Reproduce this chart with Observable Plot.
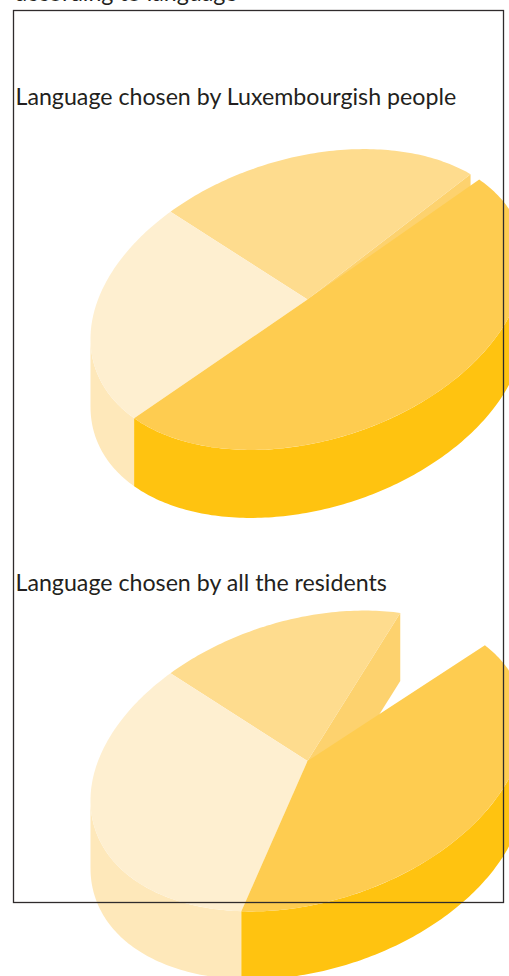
<!DOCTYPE html>
<html>
<head>
<meta charset="utf-8">
<script src="https://cdn.jsdelivr.net/npm/d3@7"></script>
<script src="https://cdn.jsdelivr.net/npm/@observablehq/plot@0.6"></script>
<style>
  html, body { margin: 0; padding: 0; background: #fff; overflow: hidden; }
  svg { display: block; }
</style>
</head>
<body>
<div id="chart"></div>
<script>
// Share of each language (percent), clockwise from the boundary between the two pale slices.
const sliceNames = ["third", "unshown", "first", "second"];
const luxembourgishShares = [24.4, 1.0, 50.2, 24.4];
const residentShares = [17.9, 8.2, 39.7, 34.2];

const headings = [
  "according to language",
  "Language chosen by Luxembourgish people",
  "Language chosen by all the residents"
];

// Colours of the top faces and of the walls.
const topColors = { first: "#fecc50", second: "#feefd0", third: "#fedc8e" };
const wallColors = { first: "#ffc310", second: "#fee8ba", third: "#fdd26e" };

// Oblique projection of a unit disc onto the page.
const axisU = [173, -119];
const axisV = [131, 92];
const depth = 68;
const startAngle = 268;
const pies = [
  { shares: luxembourgishShares, cx: 307, cy: 299 },
  { shares: residentShares, cx: 307, cy: 760.5 }
];

// The outer wall faces the viewer only between the two horizontal extremes of the rim.
const rimRight = Math.atan2(axisV[0], axisU[0]) * 180 / Math.PI;
const rimLeft = rimRight + 180;

function project(pie, angle, radius = 1, drop = 0) {
  const t = angle * Math.PI / 180;
  const a = Math.cos(t) * radius, b = Math.sin(t) * radius;
  return {
    x: pie.cx + a * axisU[0] + b * axisV[0],
    y: pie.cy + a * axisU[1] + b * axisV[1] + drop
  };
}

function arc(pie, from, to, drop = 0) {
  const n = Math.max(2, Math.ceil(Math.abs(to - from)));
  return d3.range(n + 1).map((i) => project(pie, from + (to - from) * i / n, 1, drop));
}

function wall(pie, from, to) {
  const turn = from > rimLeft ? 360 : 0;
  const a = Math.max(from - turn, rimRight), b = Math.min(to - turn, rimLeft);
  return [...arc(pie, a, b), ...arc(pie, b, a, depth)];
}

// Every pie yields its faces in back-to-front paint order.
function faces(pie, index) {
  let angle = startAngle;
  const spans = {};
  sliceNames.forEach((name, i) => {
    const sweep = pie.shares[i] * 3.6;
    spans[name] = [angle, angle + sweep];
    angle += sweep;
  });
  const out = [];
  const add = (id, color, pts) =>
    pts.forEach((p) => out.push({ ...p, id: `${index}-${id}`, color }));

  const [t0, t1] = spans.third;
  const [f0, f1] = spans.first;
  const [s0, s1] = spans.second;

  add("third-cut", wallColors.third, [
    project(pie, t1, 0), project(pie, t1), project(pie, t1, 1, depth), project(pie, t1, 0, depth)
  ]);
  add("third-top", topColors.third, [project(pie, t0, 0), ...arc(pie, t0, t1)]);
  // Walls are clipped against the rim extremes after normalising the angles to one turn.
  add("second-wall", wallColors.second, wall(pie, s0 % 360, s0 % 360 + (s1 - s0)));
  add("second-top", topColors.second, [project(pie, s0, 0), ...arc(pie, s0, s1)]);
  add("first-wall", wallColors.first, wall(pie, f0 % 360, f0 % 360 + (f1 - f0)));
  add("first-top", topColors.first, [project(pie, f0, 0), ...arc(pie, f0, f1)]);
  return out;
}

const facePoints = pies.flatMap(faces);
const headingRows = headings.map((text, i) => ({ text, x: 15, y: [0.5, 104, 590][i] }));

const chart = Plot.plot({
  width: 509,
  height: 976,
  marginLeft: 13,
  marginRight: 6,
  marginTop: 10,
  marginBottom: 74,
  x: { domain: [13, 503], axis: null },
  y: { domain: [10, 902], range: [10, 902], axis: null },
  color: { type: "identity" },
  marks: [
    Plot.line(facePoints, {
      x: "x", y: "y", z: "id", fill: "color", stroke: null, curve: "linear"
    }),
    Plot.text(headingRows, {
      x: "x", y: "y", text: "text", textAnchor: "start", lineAnchor: "bottom",
      fontFamily: "Lato", fontSize: 23.2, fill: "#231f20"
    }),
    Plot.frame({ stroke: "#2f2b2c", strokeWidth: 1.3 })
  ]
});
document.getElementById("chart").appendChild(chart);
</script>
</body>
</html>
